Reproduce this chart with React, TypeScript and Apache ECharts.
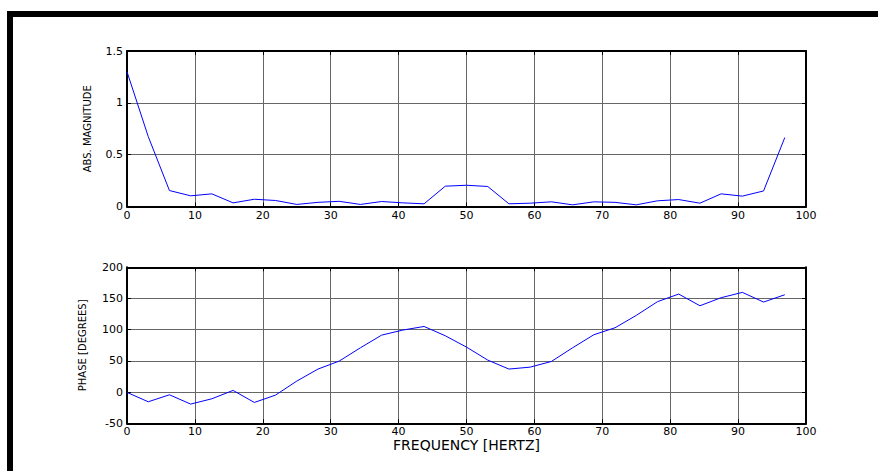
import React, { useEffect, useRef } from "react";
import * as echarts from "echarts";

const freqHz = [
  0, 3.125, 6.25, 9.375, 12.5, 15.625, 18.75, 21.875, 25, 28.125, 31.25, 34.375,
  37.5, 40.625, 43.75, 46.875, 50, 53.125, 56.25, 59.375, 62.5, 65.625, 68.75,
  71.875, 75, 78.125, 81.25, 84.375, 87.5, 90.625, 93.75, 96.875,
];
const magnitude = [
  1.3, 0.675, 0.154, 0.103, 0.122, 0.035, 0.07, 0.058, 0.02, 0.04, 0.05, 0.02,
  0.048, 0.035, 0.026, 0.196, 0.205, 0.193, 0.026, 0.032, 0.045, 0.016, 0.045,
  0.04, 0.016, 0.055, 0.067, 0.032, 0.122, 0.1, 0.15, 0.665,
];
const phaseDeg = [
  -0.5, -15.5, -4.3, -19.2, -10.7, 2.7, -16.6, -4.8, 17.6, 36.9, 49.7, 71, 91.3,
  99.4, 105.2, 90.3, 72.1, 51.3, 36.9, 40, 49.1, 71, 91.9, 103.1, 122.9, 144.9,
  157.1, 138.4, 151.3, 159.8, 144.3, 156,
];

const xTitle = "FREQUENCY [HERTZ]";
const magTitle = "ABS. MAGNITUDE";
const phaseTitle = "PHASE [DEGREES]";

const FONT = "DejaVu Sans";

export default function App() {
  const ref = useRef<HTMLDivElement>(null);
  useEffect(() => {
    if (!ref.current) return;
    const chart = echarts.init(ref.current, null, { renderer: "svg" });
    const boxLine = { show: true, lineStyle: { color: "#000", width: 2 } };
    const tick = { show: true, inside: true, length: 4, lineStyle: { color: "#000", width: 1 } };
    const grid = { show: true, lineStyle: { color: "#666", width: 1 } };
    const label = { color: "#000", fontFamily: FONT, fontSize: 11 };

    const mainX = (gi: number, withName: boolean) => ({
      type: "value",
      gridIndex: gi,
      position: "bottom",
      min: 0,
      max: 100,
      interval: 10,
      axisLine: { ...boxLine, onZero: false },
      axisTick: tick,
      splitLine: grid,
      axisLabel: { ...label, margin: 3 },
      name: withName ? xTitle : "",
      nameLocation: "middle",
      nameGap: 15,
      nameTextStyle: { color: "#000", fontFamily: FONT, fontSize: 14 },
    });
    const topX = (gi: number) => ({
      type: "value",
      gridIndex: gi,
      position: "top",
      min: 0,
      max: 100,
      interval: 10,
      axisLine: { ...boxLine, onZero: false },
      axisTick: tick,
      splitLine: { show: false },
      axisLabel: { show: false },
    });
    const leftY = (gi: number, min: number, max: number, interval: number, name: string, gap: number) => ({
      type: "value",
      gridIndex: gi,
      position: "left",
      min,
      max,
      interval,
      axisLine: { ...boxLine, onZero: false },
      axisTick: tick,
      splitLine: grid,
      axisLabel: { ...label, margin: 4 },
      name,
      nameLocation: "middle",
      nameGap: gap,
      nameTextStyle: { color: "#000", fontFamily: FONT, fontSize: 10 },
    });
    const rightY = (gi: number, min: number, max: number, interval: number) => ({
      type: "value",
      gridIndex: gi,
      position: "right",
      min,
      max,
      interval,
      axisLine: { ...boxLine, onZero: false },
      axisTick: tick,
      splitLine: { show: false },
      axisLabel: { show: false },
    });

    chart.setOption({
      animation: false,
      backgroundColor: "#fff",
      grid: [
        { left: 127, top: 51, width: 679, height: 155.5 },
        { left: 127, top: 267.3, width: 679, height: 156 },
      ],
      xAxis: [mainX(0, false), topX(0), mainX(1, true), topX(1)],
      yAxis: [
        leftY(0, 0, 1.5, 0.5, magTitle, 35),
        rightY(0, 0, 1.5, 0.5),
        leftY(1, -50, 200, 50, phaseTitle, 39.5),
        rightY(1, -50, 200, 50),
      ],
      series: [
        {
          type: "line",
          xAxisIndex: 0,
          yAxisIndex: 0,
          data: freqHz.map((f, i) => [f, magnitude[i]]),
          showSymbol: false,
          lineStyle: { color: "#0000ff", width: 1 },
        },
        {
          type: "line",
          xAxisIndex: 2,
          yAxisIndex: 2,
          data: freqHz.map((f, i) => [f, phaseDeg[i]]),
          showSymbol: false,
          lineStyle: { color: "#0000ff", width: 1 },
        },
      ],
      graphic: [
        { type: "rect", shape: { x: 7, y: 11, width: 871, height: 6 }, style: { fill: "#000" } },
        { type: "rect", shape: { x: 7, y: 11, width: 6, height: 460 }, style: { fill: "#000" } },
      ],
    });
    return () => chart.dispose();
  }, []);
  return (
    <div
      ref={ref}
      style={{ position: "fixed", left: 0, top: 0, width: 878, height: 471, background: "#fff" }}
    />
  );
}
